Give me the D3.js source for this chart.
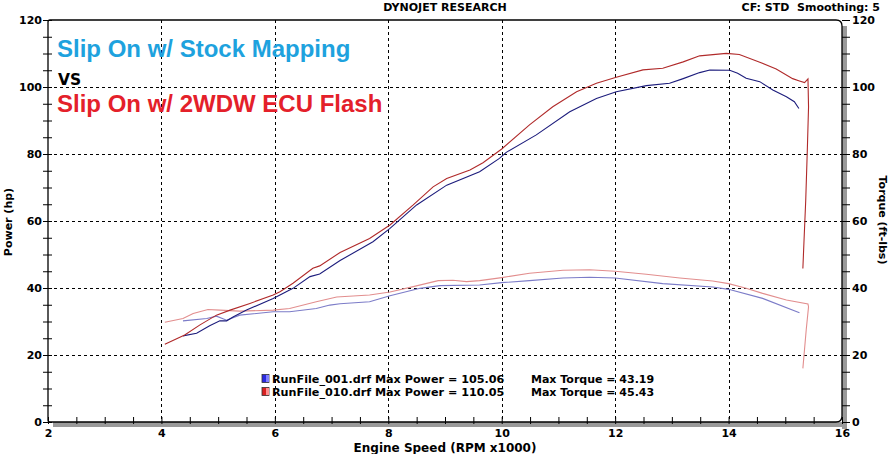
<!DOCTYPE html>
<html><head><meta charset="utf-8">
<script src="https://cdn.jsdelivr.net/npm/d3@7"></script>
<style>
body{margin:0;background:#fff;}
svg{display:block;}
text{font-family:"DejaVu Sans",Verdana,sans-serif;font-weight:bold;}
</style></head>
<body><svg id="c" width="891" height="454"></svg>
<script>
// ---- data ----
const xTicks = [2,4,6,8,10,12,14,16];
const yTicks = [0,20,40,60,80,100,120];

const powerRed = [[4.06,23.2],[4.41,26.0],[4.68,29.0],[4.97,31.9],[5.21,33.4],[5.56,35.4],[5.97,37.9],[6.09,38.9],[6.32,41.4],[6.67,45.9],[6.79,46.6],[7.15,50.6],[7.67,54.8],[8.03,58.8],[8.44,64.8],[8.79,70.2],[9.03,72.7],[9.44,75.2],[9.67,77.4],[10.0,81.5],[10.49,88.7],[10.9,94.1],[11.32,98.6],[11.67,101.1],[12.02,102.9],[12.49,105.1],[12.84,105.6],[13.2,107.5],[13.49,109.3],[13.96,110.05],[14.19,109.7],[14.55,107.4],[14.84,105.4],[15.13,102.5],[15.25,101.8],[15.34,101.3],[15.40,102.4],[15.41,94.0],[15.39,82.0],[15.36,66.0],[15.33,54.0],[15.31,45.8]];
const powerBlue = [[4.38,25.7],[4.62,26.5],[4.85,28.7],[5.03,30.2],[5.15,30.2],[5.27,31.4],[5.5,33.4],[5.97,36.9],[6.09,37.9],[6.32,39.9],[6.62,43.4],[6.79,44.2],[7.15,48.2],[7.73,53.8],[8.03,57.8],[8.5,64.8],[9.03,70.7],[9.61,74.7],[9.96,78.7],[10.08,80.5],[10.61,85.7],[11.2,92.6],[11.67,96.6],[12.02,98.6],[12.55,100.4],[12.96,101.1],[13.2,102.5],[13.49,104.3],[13.67,105.06],[14.02,105.0],[14.16,104.1],[14.31,102.6],[14.55,101.6],[14.78,99.1],[15.02,97.1],[15.16,95.6],[15.24,93.6]];
const torqueRed = [[4.06,29.8],[4.38,30.9],[4.56,32.4],[4.82,33.6],[5.03,33.4],[5.38,33.1],[5.97,33.4],[6.26,33.9],[6.73,35.9],[7.09,37.3],[7.67,37.9],[8.03,38.8],[8.44,40.4],[8.88,42.2],[9.14,42.3],[9.38,41.9],[9.61,42.2],[10.0,43.1],[10.49,44.4],[11.08,45.3],[11.55,45.43],[12.0,45.0],[12.55,44.1],[13.14,43.0],[13.72,42.1],[14.0,41.3],[14.31,39.9],[14.6,38.4],[15.02,36.4],[15.4,35.2],[15.41,34.4],[15.37,27.7],[15.31,16.0]];
const torqueBlue = [[4.38,30.2],[4.8,30.9],[4.97,31.6],[5.15,30.4],[5.38,31.9],[5.97,32.9],[6.26,32.9],[6.73,33.9],[6.97,34.9],[7.15,35.3],[7.67,35.9],[8.03,37.7],[8.56,39.9],[8.91,40.7],[9.61,40.9],[10.0,41.6],[10.49,42.2],[11.08,43.0],[11.55,43.19],[12.0,43.0],[12.84,41.3],[13.72,40.3],[14.0,39.6],[14.6,36.9],[15.25,32.6]];

const legendRows = [
  {file:"RunFile_001.drf", power:"105.06", torque:"43.19", color:"#2a2ae0", light:"#8080ff"},
  {file:"RunFile_010.drf", power:"110.05", torque:"45.43", color:"#d82020", light:"#ff9090"}
];

// ---- chart ----
const svg = d3.select("#c");
const L=48, R=842, T=20, B=422;
const x = d3.scaleLinear().domain([2,16]).range([L,R]);
const y = d3.scaleLinear().domain([0,120]).range([B,T]);

// shadow
svg.append("rect").attr("x",R).attr("y",T+6).attr("width",5).attr("height",B-T+1).attr("fill","#9a9a9a");
svg.append("rect").attr("x",L+5).attr("y",B).attr("width",R-L).attr("height",5).attr("fill","#9a9a9a");

// grid
const grid = svg.append("g").attr("stroke","#000").attr("stroke-width",1).attr("stroke-dasharray","3,3");
[4,6,8,10,12,14].forEach(v=>grid.append("line").attr("x1",Math.round(x(v))+0.5).attr("x2",Math.round(x(v))+0.5).attr("y1",T).attr("y2",B));
[20,40,60,80,100].forEach(v=>grid.append("line").attr("y1",Math.round(y(v))+0.5).attr("y2",Math.round(y(v))+0.5).attr("x1",L).attr("x2",R));

// frame
const r=6;
svg.append("path").attr("fill","none").attr("stroke","#000").attr("stroke-width",1.3)
  .attr("d",`M${L+2},${B} Q${L},${B} ${L},${B-2} L${L},${T+2} Q${L},${T} ${L+2},${T} L${R-r},${T} Q${R},${T} ${R},${T+r} L${R},${B-r} Q${R},${B} ${R-r},${B} Z`);

// left axis
const minorY = d3.range(0,121,5);
const ax = svg.append("g").attr("transform",`translate(${L},0)`)
  .call(d3.axisLeft(y).tickValues(minorY).tickSize(5).tickFormat(d=>yTicks.includes(d)?d:""));
ax.select(".domain").remove();
ax.selectAll(".tick line").attr("x1",-5).attr("x2",4).attr("stroke","#000");
ax.selectAll(".tick text").attr("x",-6).attr("font-size",11).attr("font-family","DejaVu Sans").attr("font-weight","bold").attr("fill","#000");

// right axis
const ar = svg.append("g").attr("transform",`translate(${R},0)`)
  .call(d3.axisRight(y).tickValues(minorY).tickSize(5).tickFormat(d=>yTicks.includes(d)?d:""));
ar.select(".domain").remove();
ar.selectAll(".tick line").attr("x1",0).attr("x2",8).attr("stroke","#000");
ar.selectAll(".tick text").attr("x",10).attr("dy","0.36em").attr("font-size",11).attr("font-family","DejaVu Sans").attr("font-weight","bold").attr("fill","#000");

// bottom axis
const minorX = d3.range(2,16.01,0.5);
const ab = svg.append("g").attr("transform",`translate(0,${B})`)
  .call(d3.axisBottom(x).tickValues(minorX).tickSize(5).tickFormat(d=>xTicks.includes(d)?d:""));
ab.select(".domain").remove();
ab.selectAll(".tick line").attr("y1",-5).attr("y2",2).attr("stroke","#000");
ab.selectAll(".tick text").attr("y",7).attr("font-size",11).attr("font-family","DejaVu Sans").attr("font-weight","bold").attr("fill","#000");

// curves
const line = d3.line().x(d=>x(d[0])).y(d=>y(d[1]));
const curves = [[torqueBlue,"#7c7cc8"],[torqueRed,"#e28e8e"],[powerBlue,"#1c1c7c"],[powerRed,"#b02a2a"]];
curves.forEach(([d,c])=>svg.append("path").datum(d).attr("d",line).attr("fill","none").attr("stroke",c).attr("stroke-width",1.1));

// titles
svg.append("text").attr("x",445).attr("y",11).attr("text-anchor","middle").attr("font-size",11).text("DYNOJET RESEARCH");
svg.append("text").attr("x",880).attr("y",11).attr("text-anchor","end").attr("font-size",11).style("white-space","pre").text("CF: STD  Smoothing: 5");
svg.append("text").attr("transform","translate(12,222) rotate(-90)").attr("text-anchor","middle").attr("font-size",11).text("Power (hp)");
svg.append("text").attr("transform","translate(879,220) rotate(90)").attr("text-anchor","middle").attr("font-size",11).text("Torque (ft-lbs)");
svg.append("text").attr("x",445).attr("y",452).attr("text-anchor","middle").attr("font-size",12).text("Engine Speed (RPM x1000)");

// annotations
svg.append("text").attr("x",57).attr("y",57).attr("font-size",24).attr("fill","#1ea2de").style("font-family","'Liberation Sans', Arial").text("Slip On w/ Stock Mapping");
svg.append("text").attr("x",58).attr("y",85).attr("font-size",15.5).attr("fill","#000").text("VS");
svg.append("text").attr("x",57).attr("y",112).attr("font-size",24).attr("fill","#e4202a").style("font-family","'Liberation Sans', Arial").text("Slip On w/ 2WDW ECU Flash");

// legend
legendRows.forEach((d,i)=>{
  const yy = 383 + i*13;
  svg.append("rect").attr("x",262).attr("y",yy-8.5).attr("width",7).attr("height",8).attr("fill",d.color).attr("stroke","#333").attr("stroke-width",0.8);
  svg.append("rect").attr("x",266).attr("y",yy-8).attr("width",3).attr("height",7).attr("fill",d.light);
  svg.append("text").attr("x",272).attr("y",yy).attr("font-size",11.2).text(`${d.file} Max Power = ${d.power}`);
  svg.append("text").attr("x",531).attr("y",yy).attr("font-size",11).text(`Max Torque = ${d.torque}`);
});
</script></body></html>
